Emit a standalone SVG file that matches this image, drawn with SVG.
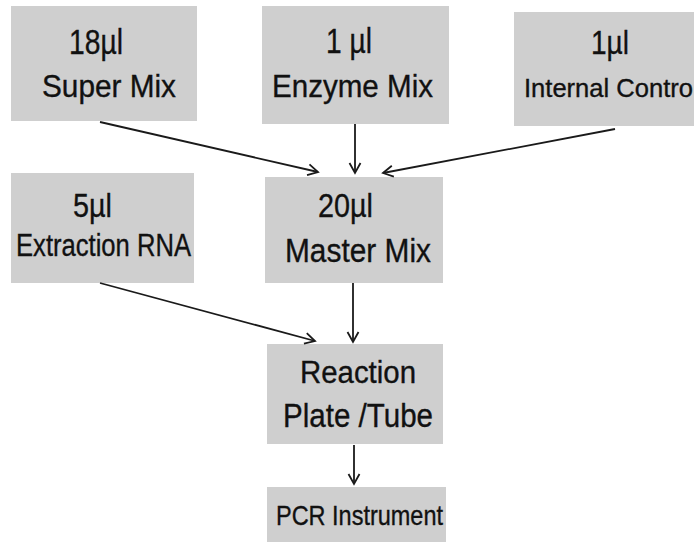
<svg xmlns="http://www.w3.org/2000/svg" width="694" height="544" viewBox="0 0 694 544">
<style>
.box{fill:#cfcfcf;}
.t{font-family:"Liberation Sans",Arial,sans-serif;fill:#111;stroke:#111;stroke-width:0.35;}
.c{stroke:#1a1a1a;stroke-width:1.8;fill:none;}
</style>
<defs>
<marker id="ah" markerUnits="userSpaceOnUse" markerWidth="14" markerHeight="14" viewBox="0 0 14 14" refX="12" refY="7" orient="auto">
<path d="M2,1.5 L12,7 L2,12.5" fill="none" stroke="#1a1a1a" stroke-width="1.8"/>
</marker>
</defs>
<rect width="694" height="544" fill="#fff"/>
<g id="super-mix">
<rect class="box" x="11" y="6" width="186" height="115"/>
<text class="t" x="69" y="54" font-size="35" textLength="54" lengthAdjust="spacingAndGlyphs">18µl</text>
<text class="t" x="42" y="97" font-size="31" textLength="134" lengthAdjust="spacingAndGlyphs">Super Mix</text>
</g>
<g id="enzyme-mix">
<rect class="box" x="262" y="6" width="187" height="118"/>
<text class="t" x="326" y="53" font-size="35" textLength="46" lengthAdjust="spacingAndGlyphs">1 µl</text>
<text class="t" x="272" y="97" font-size="32" textLength="161" lengthAdjust="spacingAndGlyphs">Enzyme Mix</text>
</g>
<g id="internal-control">
<rect class="box" x="514" y="12" width="180" height="114"/>
<text class="t" x="591" y="54" font-size="34" textLength="38" lengthAdjust="spacingAndGlyphs">1µl</text>
<text class="t" x="524" y="97" font-size="25" textLength="169" lengthAdjust="spacingAndGlyphs">Internal Contro</text>
</g>
<g id="extraction-rna">
<rect class="box" x="11" y="173" width="183" height="110"/>
<text class="t" x="73" y="217" font-size="34" textLength="39" lengthAdjust="spacingAndGlyphs">5µl</text>
<text class="t" x="16" y="256" font-size="31" textLength="175" lengthAdjust="spacingAndGlyphs">Extraction RNA</text>
</g>
<g id="master-mix">
<rect class="box" x="265" y="177" width="178" height="106"/>
<text class="t" x="318" y="217" font-size="34" textLength="55" lengthAdjust="spacingAndGlyphs">20µl</text>
<text class="t" x="285" y="262" font-size="34" textLength="146" lengthAdjust="spacingAndGlyphs">Master Mix</text>
</g>
<g id="reaction-plate">
<rect class="box" x="267" y="344" width="176" height="100"/>
<text class="t" x="300" y="383" font-size="31" textLength="116" lengthAdjust="spacingAndGlyphs">Reaction</text>
<text class="t" x="283" y="427" font-size="33" textLength="150" lengthAdjust="spacingAndGlyphs">Plate /Tube</text>
</g>
<g id="pcr-instrument">
<rect class="box" x="267" y="487" width="179" height="55"/>
<text class="t" x="276" y="525" font-size="28" textLength="167" lengthAdjust="spacingAndGlyphs">PCR Instrument</text>
</g>
<g id="connectors">
<line class="c" x1="100" y1="122" x2="318" y2="172" marker-end="url(#ah)"/>
<line class="c" x1="355" y1="124" x2="355" y2="173" marker-end="url(#ah)"/>
<line class="c" x1="615" y1="129" x2="383" y2="173" marker-end="url(#ah)"/>
<line class="c" x1="100" y1="283" x2="315" y2="341" marker-end="url(#ah)"/>
<line class="c" x1="353" y1="283" x2="353" y2="342" marker-end="url(#ah)"/>
<line class="c" x1="354" y1="445" x2="354" y2="484" marker-end="url(#ah)"/>
</g>
</svg>
